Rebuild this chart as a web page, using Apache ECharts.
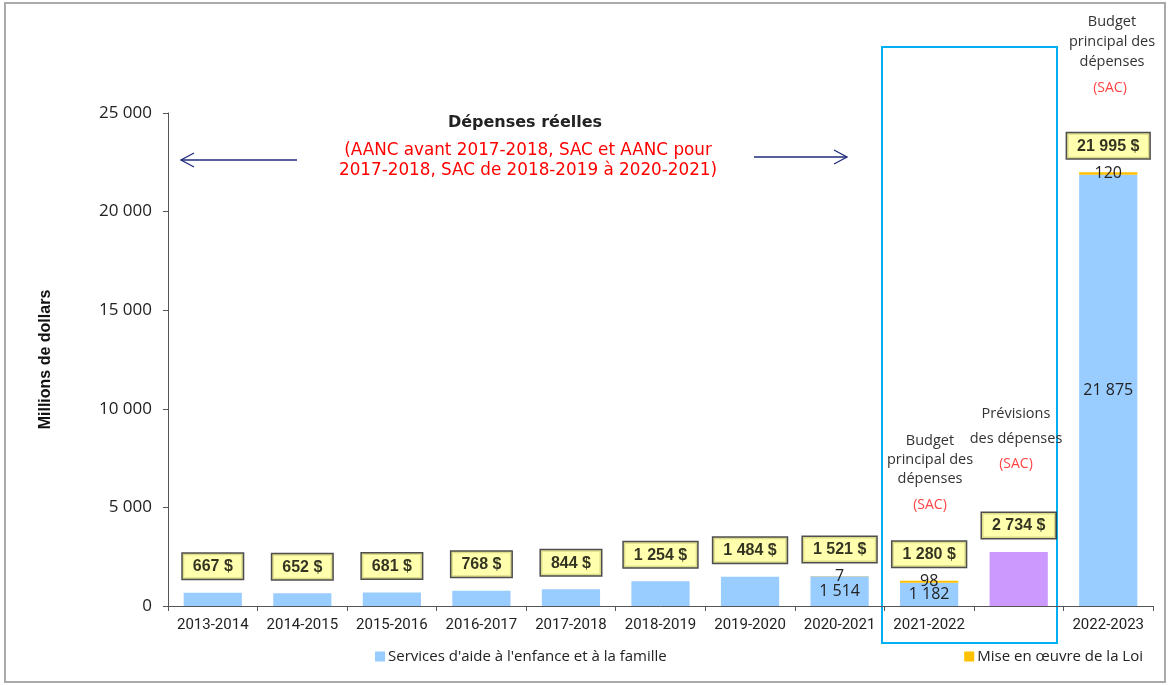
<!DOCTYPE html>
<html>
<head>
<meta charset="utf-8">
<script src="https://cdn.jsdelivr.net/npm/echarts@6/dist/echarts.min.js"></script>
<style>
  html, body { margin: 0; padding: 0; background: #fff; }
  #chart { width: 1170px; height: 685px; }
</style>
</head>
<body>
<div id="chart"></div>
<script>
// categories (the forecast column has no axis label)
const categories = ['2013-2014', '2014-2015', '2015-2016', '2016-2017', '2017-2018',
  '2018-2019', '2019-2020', '2020-2021', '2021-2022', '', '2022-2023']
const servicesValues = [667, 652, 681, 768, 844, 1254, 1484, 1514, 1182, 0, 21875]
const loiValues = [0, 0, 0, 0, 0, 0, 0, 7, 98, 0, 120]
const previsionValues = [0, 0, 0, 0, 0, 0, 0, 0, 0, 2734, 0]
const totalValues = [667, 652, 681, 768, 844, 1254, 1484, 1521, 1280, 2734, 21995]
const servicesLabelled = [7, 8, 10]
const yTicks = [0, 5000, 10000, 15000, 20000, 25000]

const narrow = "'Liberation Sans Narrow', 'Roboto', sans-serif"
const servicesName = "Services d'aide à l'enfance et à la famille"
const loiName = 'Mise en œuvre de la Loi'

function fmt(v) {
  return String(v).replace(/\B(?=(\d{3})+(?!\d))/g, ' ')
}

const chart = echarts.init(document.getElementById('chart'))

const legendBase = {
  bottom: 16,
  icon: 'rect',
  itemWidth: 10,
  itemHeight: 10,
  itemGap: 4,
  textStyle: { fontFamily: "'Open Sans', sans-serif", fontSize: 15, color: '#222', padding: [0, 0, 0, -2] }
}

const option = {
  animation: false,
  textStyle: { fontFamily: narrow },
  grid: { left: 168, right: 17, top: 113, bottom: 79 },
  legend: [
    Object.assign({ left: 370, data: [servicesName] }, legendBase),
    Object.assign({ right: 22, data: [loiName] }, legendBase)
  ],
  xAxis: {
    type: 'category',
    data: categories,
    axisLine: { lineStyle: { color: '#555', width: 1 } },
    axisTick: { show: true, lineStyle: { color: '#555' }, length: 5 },
    axisLabel: { color: '#222', fontSize: 15, margin: 12, interval: 0 }
  },
  yAxis: {
    type: 'value',
    min: 0,
    max: 25000,
    interval: 5000,
    name: 'Millions de dollars',
    nameLocation: 'middle',
    nameGap: 114,
    nameTextStyle: { fontFamily: 'Liberation Sans, Arial, sans-serif', fontWeight: 'bold', fontSize: 16, color: '#111' },
    splitLine: { show: false },
    axisLine: { show: true, lineStyle: { color: '#555' } },
    axisTick: { show: true, length: 5, lineStyle: { color: '#555' } },
    axisLabel: {
      color: '#222', fontSize: 17, margin: 16,
      fontFamily: "'Open Sans', sans-serif",
      formatter: v => yTicks.includes(v) ? fmt(v) : ''
    }
  },
  series: [
    {
      name: servicesName,
      type: 'bar',
      stack: 'a',
      barCategoryGap: '35%',
      itemStyle: { color: '#99ccff' },
      data: servicesValues.map((v, i) => ({
        value: v,
        label: {
          show: servicesLabelled.includes(i),
          position: 'inside',
          formatter: p => fmt(p.value),
          fontSize: 16,
          color: '#222',
          fontFamily: "'Open Sans', sans-serif"
        }
      }))
    },
    {
      name: loiName,
      type: 'bar',
      stack: 'a',
      itemStyle: { color: '#ffc000' },
      label: {
        show: true,
        position: 'inside',
        formatter: p => p.value ? fmt(p.value) : '',
        fontSize: 16,
        color: '#222',
        fontFamily: "'Open Sans', sans-serif"
      },
      data: loiValues
    },
    {
      name: 'Prévisions des dépenses',
      type: 'bar',
      stack: 'a',
      itemStyle: { color: '#cc99ff' },
      data: previsionValues
    },
    {
      name: 'Total',
      type: 'scatter',
      symbolSize: 0,
      silent: true,
      label: {
        show: true,
        position: 'top',
        distance: 14,
        formatter: p => fmt(p.value) + ' $',
        fontFamily: "'Liberation Sans Narrow', sans-serif",
        fontWeight: 'bold',
        fontSize: 16,
        color: '#000',
        backgroundColor: '#ffff99',
        borderColor: '#222',
        borderWidth: 1.5,
        padding: [5, 10, 4, 10]
      },
      data: totalValues
    }
  ],
  graphic: [
    {
      type: 'rect', silent: true,
      shape: { x: 5, y: 3, width: 1160, height: 679 },
      style: { fill: 'none', stroke: '#aaa', lineWidth: 2 }
    },
    {
      type: 'rect', silent: true,
      shape: { x: 882, y: 47, width: 175, height: 596 },
      style: { fill: 'none', stroke: '#00b0f0', lineWidth: 2 }
    },
    {
      type: 'text', silent: true,
      style: {
        text: 'Dépenses réelles', x: 525, y: 123, align: 'center', verticalAlign: 'middle',
        font: "bold 16px 'DejaVu Sans', sans-serif", fill: '#222'
      }
    },
    {
      type: 'text', silent: true,
      style: {
        text: '(AANC avant 2017-2018, SAC et AANC pour\n2017-2018, SAC de 2018-2019 à 2020-2021)',
        x: 528, y: 161, align: 'center', verticalAlign: 'middle', lineHeight: 20,
        font: "16.8px 'DejaVu Sans', sans-serif", fill: '#ff0000'
      }
    },
    {
      type: 'line', silent: true,
      shape: { x1: 297, y1: 160, x2: 181, y2: 160 },
      style: { stroke: '#1f2a7a', lineWidth: 1.3 }
    },
    {
      type: 'polyline', silent: true,
      shape: { points: [[194, 153], [181, 160], [194, 167]] },
      style: { stroke: '#1f2a7a', lineWidth: 1.3, fill: 'none' }
    },
    {
      type: 'line', silent: true,
      shape: { x1: 754, y1: 157, x2: 847, y2: 157 },
      style: { stroke: '#1f2a7a', lineWidth: 1.3 }
    },
    {
      type: 'polyline', silent: true,
      shape: { points: [[834, 150], [847, 157], [834, 164]] },
      style: { stroke: '#1f2a7a', lineWidth: 1.3, fill: 'none' }
    },
    {
      type: 'text', silent: true,
      style: {
        text: 'Budget\nprincipal des\ndépenses', x: 1112, y: 12, align: 'center', lineHeight: 20,
        font: "14.5px 'Open Sans', sans-serif", fill: '#333'
      }
    },
    {
      type: 'text', silent: true,
      style: {
        text: '(SAC)', x: 1110, y: 81, align: 'center',
        font: "14px 'Open Sans', sans-serif", fill: '#ff4444'
      }
    },
    {
      type: 'text', silent: true,
      style: {
        text: 'Prévisions', x: 1016, y: 406, align: 'center',
        font: "14.5px 'Open Sans', sans-serif", fill: '#333'
      }
    },
    {
      type: 'text', silent: true,
      style: {
        text: 'des dépenses', x: 1016, y: 431, align: 'center',
        font: "14.5px 'Open Sans', sans-serif", fill: '#333'
      }
    },
    {
      type: 'text', silent: true,
      style: {
        text: '(SAC)', x: 1016, y: 457, align: 'center',
        font: "14px 'Open Sans', sans-serif", fill: '#ff4444'
      }
    },
    {
      type: 'text', silent: true,
      style: {
        text: 'Budget\nprincipal des\ndépenses', x: 930, y: 431, align: 'center', lineHeight: 19,
        font: "14.5px 'Open Sans', sans-serif", fill: '#333'
      }
    },
    {
      type: 'text', silent: true,
      style: {
        text: '(SAC)', x: 930, y: 498, align: 'center',
        font: "14px 'Open Sans', sans-serif", fill: '#ff4444'
      }
    }
  ]
}

chart.setOption(option)
</script>
</body>
</html>
